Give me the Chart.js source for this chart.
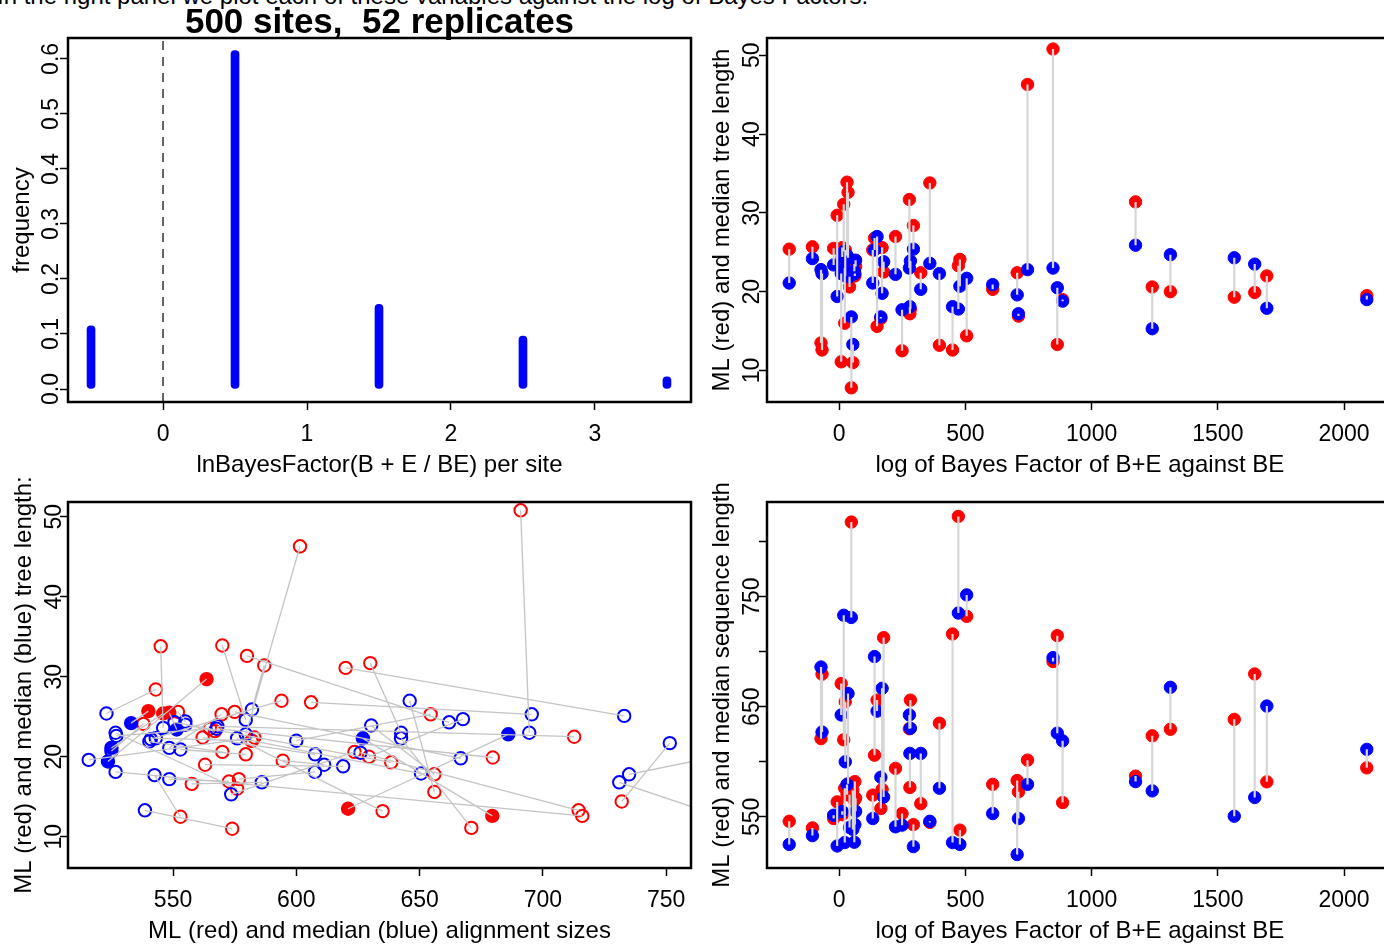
<!DOCTYPE html>
<html>
<head>
<meta charset="utf-8">
<script src="https://cdn.jsdelivr.net/npm/chart.js@4.4.0/dist/chart.umd.min.js"></script>
<style>
  html, body { margin: 0; padding: 0; background: #fff; }
  body { width: 1384px; height: 944px; overflow: hidden; position: relative; }
  canvas { position: absolute; }
  #caption { position: absolute; left: -3px; top: -18px; font: 24px "Liberation Sans", Arial, sans-serif; white-space: nowrap; color: #000; }
</style>
</head>
<body>
<div id="caption">In the right panel we plot each of these variables against the log of Bayes Factors.</div>
<canvas id="chartHist" width="700" height="480" style="left:0;top:0"></canvas>
<canvas id="chartTree" width="700" height="480" style="left:700px;top:0"></canvas>
<canvas id="chartAlign" width="700" height="472" style="left:0;top:472px"></canvas>
<canvas id="chartSeq" width="700" height="472" style="left:700px;top:472px"></canvas>
<script>
// histogram: lnBayesFactor per site
const freqBins = [-0.5, 0.5, 1.5, 2.5, 3.5];
const freqValues = [0.115, 0.615, 0.154, 0.096, 0.022];
const histTicksX = [0, 1, 2, 3];
const histTicksY = [0, 0.1, 0.2, 0.3, 0.4, 0.5, 0.6];

// one entry per replicate (52)
const logBF = [-198, -106, -72, -68, -22, -8, 8, 12, 18, 22, 24, 31, 35, 41, 48, 54, 60, 62, 65,
  133, 140, 150, 165, 170, 176, 223, 249, 278, 280, 282, 294, 323, 359, 397, 449, 472, 478, 505,
  608, 705, 710, 746, 847, 864, 885, 1174, 1240, 1312, 1565, 1646, 1694, 2090];
const mlTreeLen = [25.4, 25.7, 13.5, 12.6, 25.5, 29.7, 11.1, 25.6, 31.1, 16.0, 25.3, 33.9, 32.6, 20.6, 7.8, 11.0, 23.5, 22.0, 23.2,
  25.3, 26.8, 15.6, 16.6, 25.6, 22.5, 27.0, 12.5, 31.7, 17.2, 17.8, 28.4, 22.4, 33.8, 13.2, 12.6, 23.3, 24.1, 14.4,
  20.3, 22.4, 16.9, 46.3, 50.8, 13.3, 19.0, 31.4, 20.6, 20.0, 19.3, 19.9, 22.0, 19.5];
const medTreeLen = [21.1, 24.2, 22.8, 22.3, 23.4, 19.4, 22.3, 24.4, 25.1, 23.0, 22.0, 24.6, 24.3, 21.9, 16.8, 13.3, 22.6, 22.3, 24.0,
  21.1, 25.3, 27.0, 16.8, 19.8, 23.8, 22.2, 17.7, 23.0, 18.1, 23.9, 25.4, 20.3, 23.6, 22.3, 18.1, 17.8, 20.7, 21.7,
  20.9, 19.6, 17.2, 22.8, 23.0, 20.5, 18.8, 25.9, 15.3, 24.7, 24.3, 23.5, 17.9, 19.0];
const mlAlignLen = [546, 540, 621, 679.5, 548.5, 563.6, 671, 552, 620, 576, 654.5, 570, 580, 570, 817.6, 574, 565, 582, 567,
  569.7, 606, 656, 557.6, 575, 712.7, 594, 553, 630, 576.7, 656, 543, 562, 545, 635, 716, 822.7, 538, 732,
  579.5, 583, 572.7, 601.5, 691, 714.5, 563, 587, 623.6, 629.5, 638.5, 679.7, 581.8, 594.5];
const medAlignLen = [525, 533, 686, 627, 551.5, 523.6, 642.5, 555, 733, 526.7, 600, 579.5, 662, 540.4, 731, 538.6, 527, 543, 555,
  548.5, 695.5, 646, 586, 666.7, 568, 541, 542.5, 642.5, 607.6, 630.4, 523, 607.6, 546, 576, 526.7, 735, 525, 751.5,
  553, 515.8, 548.5, 579.5, 694.5, 626, 619, 582, 573.6, 667.6, 550.6, 567.6, 650.6, 611.3];

const bfTicks = [0, 500, 1000, 1500, 2000];
const treeTicks = [10, 20, 30, 40, 50];
const alignTicks = [550, 600, 650, 700, 750];
const seqTicks = [550, 600, 650, 700, 750, 800];
const seqLabels = [550, 650, 750];

const RED = '#ff0000';
const BLUE = '#0000ff';

Chart.defaults.font.family = "'Liberation Sans', Arial, sans-serif";
Chart.defaults.color = '#000';
Chart.defaults.animation = false;
Chart.defaults.events = [];
Chart.defaults.plugins.legend.display = false;
Chart.defaults.plugins.tooltip.enabled = false;

// R-style box round the plot region
const rBox = {
    id: 'rBox',
    afterDatasetsDraw(chart) {
        const { ctx, chartArea: a } = chart;
        ctx.save();
        ctx.strokeStyle = '#000';
        ctx.lineWidth = 2.5;
        ctx.strokeRect(a.left, a.top, a.right - a.left, a.bottom - a.top);
        ctx.restore();
    }
};

function rScale(axis, c) {
    const s = {
        type: 'linear',
        min: c.range[0],
        max: c.range[1],
        offset: false,
        afterBuildTicks: sc => { sc.ticks = c.ticks.map(v => ({ value: v })); },
        afterFit: sc => { if (axis === 'x') sc.height = c.size; else sc.width = c.size; },
        border: { display: false },
        grid: { offset: false, drawOnChartArea: false, drawTicks: true, tickLength: 8, tickWidth: 1.5, tickColor: '#000' },
        ticks: { color: '#000', font: { size: 23 }, autoSkip: false, padding: c.pad, callback: c.fmt || (v => String(v)) },
        title: {
            display: true, text: c.title, color: '#000',
            font: { size: 24, lineHeight: 1 },
            padding: axis === 'x' ? { top: 0, bottom: c.titlePad } : { top: c.titlePad, bottom: 0 }
        }
    };
    if (axis === 'y') Object.assign(s.ticks, { minRotation: 90, maxRotation: 90, crossAlign: 'center' });
    else s.ticks.maxRotation = 0;
    return s;
}

function points(xs, ys) {
    return xs.map((x, i) => ({ x, y: ys[i] }));
}

function links(x1, y1, x2, y2) {
    const pts = [];
    x1.forEach((x, i) => {
        pts.push({ x, y: y1[i] }, { x: x2[i], y: y2[i] }, { x: x2[i], y: null });
    });
    return pts;
}

function pairChart(id, d, o) {
    const fill = (col) => o.open ? logBF.map(v => v < 0 ? col : 'rgba(0,0,0,0)') : col;
    return new Chart(document.getElementById(id), {
        type: 'scatter',
        data: {
            datasets: [
                {
                    data: links(d.xr, d.yr, d.xb, d.yb), showLine: true, spanGaps: false,
                    borderColor: o.linkColor, borderWidth: o.linkWidth, pointRadius: 0, order: 0
                },
                {
                    data: points(d.xb, d.yb), pointRadius: o.radius, pointBorderWidth: o.ring,
                    borderColor: BLUE, backgroundColor: fill(BLUE), order: 1
                },
                {
                    data: points(d.xr, d.yr), pointRadius: o.radius, pointBorderWidth: o.ring,
                    borderColor: RED, backgroundColor: fill(RED), order: 2
                }
            ]
        },
        options: {
            responsive: false,
            layout: { padding: o.padding },
            scales: { x: rScale('x', o.x), y: rScale('y', o.y) }
        },
        plugins: [rBox]
    });
}

// top left: histogram
new Chart(document.getElementById('chartHist'), {
    type: 'bar',
    data: {
        datasets: [
            {
                type: 'line', data: [{ x: 0, y: -0.0236 }, { x: 0, y: 0.638 }],
                borderColor: '#000', borderWidth: 1.2, borderDash: [9, 7], pointRadius: 0
            },
            {
                data: points(freqBins, freqValues), backgroundColor: BLUE,
                barThickness: 8, borderRadius: 4, borderSkipped: false
            }
        ]
    },
    options: {
        responsive: false,
        layout: { padding: { top: 0, right: 9, left: 0, bottom: 0 } },
        plugins: {
            title: {
                display: true, text: '500 sites,  52 replicates', fullSize: false, color: '#000',
                font: { size: 35, weight: 'bold', lineHeight: 1 }, padding: { top: 6, bottom: -3 }
            }
        },
        scales: {
            x: rScale('x', { range: [-0.66, 3.667], ticks: histTicksX, size: 78, pad: 11, titlePad: 2.5,
                title: 'lnBayesFactor(B + E / BE) per site' }),
            y: rScale('y', { range: [-0.0236, 0.638], ticks: histTicksY, size: 68, pad: -7.5, titlePad: 10,
                title: 'frequency', fmt: v => v.toFixed(1) })
        }
    },
    plugins: [rBox]
});

// top right: tree length against log BF
pairChart('chartTree',
    { xr: logBF, yr: mlTreeLen, xb: logBF, yb: medTreeLen },
    {
        radius: 6.2, ring: 1, linkColor: '#d6d6d6', linkWidth: 2.2,
        padding: { top: 38, right: 4, left: 0, bottom: 0 },
        x: { range: [-286, 2193], ticks: bfTicks, size: 78, pad: 11, titlePad: 2.5,
            title: 'log of Bayes Factor of B+E against BE' },
        y: { range: [6.0, 52.2], ticks: treeTicks, size: 67, pad: -6.3, titlePad: 10,
            title: 'ML (red) and median tree length' }
    });

// bottom left: tree length against alignment size
pairChart('chartAlign',
    { xr: mlAlignLen, yr: mlTreeLen, xb: medAlignLen, yb: medTreeLen },
    {
        open: true, radius: 6.2, ring: 2, linkColor: '#c4c4c4', linkWidth: 1.3,
        padding: { top: 30, right: 9, left: 0, bottom: 0 },
        x: { range: [507.4, 760.1], ticks: alignTicks, size: 76, pad: 11, titlePad: 1,
            title: 'ML (red) and median (blue) alignment sizes' },
        y: { range: [6.09, 51.84], ticks: treeTicks, size: 68, pad: -7.3, titlePad: 12,
            title: 'ML (red) and median (blue) tree length:' }
    });

// bottom right: sequence length against log BF
pairChart('chartSeq',
    { xr: logBF, yr: mlAlignLen, xb: logBF, yb: medAlignLen },
    {
        radius: 6.2, ring: 1, linkColor: '#d6d6d6', linkWidth: 2.2,
        padding: { top: 30, right: 4, left: 0, bottom: 0 },
        x: { range: [-286, 2193], ticks: bfTicks, size: 76, pad: 11, titlePad: 1,
            title: 'log of Bayes Factor of B+E against BE' },
        y: { range: [503.6, 835.8], ticks: seqTicks, size: 67, pad: -12.7, titlePad: 10,
            title: 'ML (red) and median sequence length',
            fmt: v => seqLabels.includes(v) ? String(v) : '' }
    });
</script>
</body>
</html>
